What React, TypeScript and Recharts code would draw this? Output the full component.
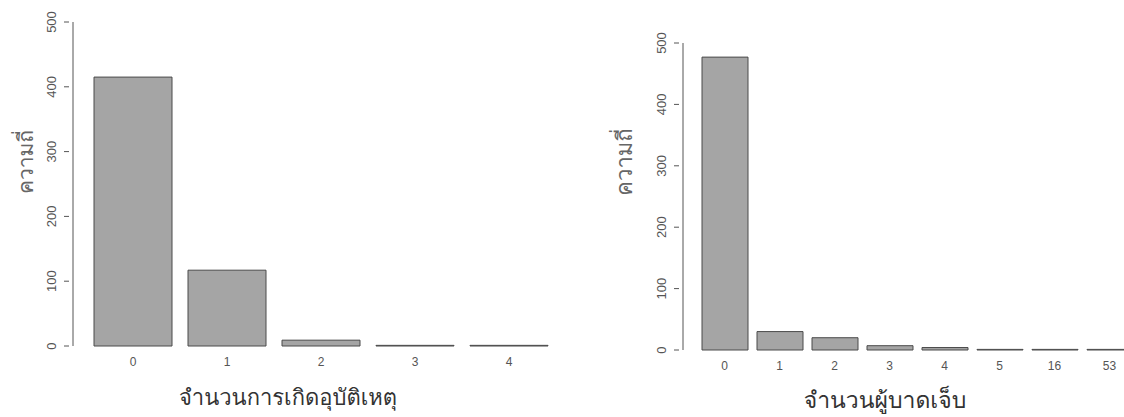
import React from 'react';
import { BarChart, Bar, XAxis, YAxis, Label } from 'recharts';

const accidentCategories = ['0', '1', '2', '3', '4'];
const accidentFreq = [415, 117, 9, 1, 1];

const injuredCategories = ['0', '1', '2', '3', '4', '5', '16', '53'];
const injuredFreq = [477, 30, 20, 7, 4, 1, 1, 1];

const yTicks = [0, 100, 200, 300, 400, 500];

const yTitle = 'ความถี่';
const leftXTitle = 'จำนวนการเกิดอุบัติเหตุ';
const rightXTitle = 'จำนวนผู้บาดเจ็บ';

const accidentData = accidentCategories.map((c, i) => ({ cat: c, freq: accidentFreq[i] }));
const injuredData = injuredCategories.map((c, i) => ({ cat: c, freq: injuredFreq[i] }));

const TICK_FONT = '"Liberation Sans", Arial, Helvetica, sans-serif';
const THAI_FONT = '"Norasi", "Kinnari", "Loma", "Garuda", "TlwgTypo", "Noto Serif Thai", "Noto Sans Thai", serif';

const YTick = (props: any) => {
  const { x, y, payload } = props;
  const cx = x - 9;
  return (
    <g>
      <line x1={x - 1} x2={x + 4} y1={y} y2={y} stroke="#555" strokeWidth={1} />
      <text
        x={cx}
        y={y}
        transform={`rotate(-90, ${cx}, ${y})`}
        textAnchor="middle"
        fontSize={13}
        fontFamily={TICK_FONT}
        fill="#555"
      >
        {payload.value}
      </text>
    </g>
  );
};

const XTick = (props: any) => {
  const { x, y, payload } = props;
  return (
    <text x={x} y={y + 12} textAnchor="middle" fontSize={12} fontFamily={TICK_FONT} fill="#555">
      {payload.value}
    </text>
  );
};

const makeYTitle = (tx: number, ty: number, size: number) => (props: any) => (
  <text
    x={tx}
    y={ty}
    transform={`rotate(-90, ${tx}, ${ty})`}
    textAnchor="middle"
    fontSize={size}
    fontFamily={THAI_FONT}
    fill="#666"
  >
    {yTitle}
  </text>
);

const makeXTitle = (text: string, tx: number, ty: number, size: number) => (props: any) => (
  <text x={tx} y={ty} textAnchor="middle" fontSize={size} fontFamily={THAI_FONT} fill="#333">
    {text}
  </text>
);

export default function App() {
  return (
    <div
      style={{
        position: 'absolute',
        left: 0,
        top: 0,
        width: 1124,
        height: 417,
        overflow: 'hidden',
        background: '#fff',
      }}
    >
      <div style={{ position: 'absolute', left: 0, top: 0 }}>
        <BarChart
          width={560}
          height={417}
          data={accidentData}
          margin={{ top: 22, right: 4, bottom: 0, left: 0 }}
        >
          <XAxis
            dataKey="cat"
            height={71}
            axisLine={false}
            tickLine={false}
            padding={{ left: 13, right: 0 }}
            tick={<XTick />}
            interval={0}
          >
            <Label content={makeXTitle(leftXTitle, 288, 405, 22)} />
          </XAxis>
          <YAxis
            width={73}
            domain={[0, 500]}
            ticks={yTicks}
            axisLine={{ stroke: '#555' }}
            tickLine={false}
            tick={<YTick />}
            interval={0}
          >
            <Label content={makeYTitle(33, 162, 21)} />
          </YAxis>
          <Bar dataKey="freq" barSize={78} fill="#a5a5a5" stroke="#4a4a4a" strokeWidth={1} isAnimationActive={false} />
        </BarChart>
      </div>
      <div style={{ position: 'absolute', left: 560, top: 0 }}>
        <BarChart
          width={580}
          height={417}
          data={injuredData}
          margin={{ top: 43, right: 3, bottom: 0, left: 0 }}
        >
          <XAxis
            dataKey="cat"
            height={67}
            axisLine={false}
            tickLine={false}
            padding={{ left: 14, right: 0 }}
            tick={<XTick />}
            interval={0}
          >
            <Label content={makeXTitle(rightXTitle, 325, 408, 23)} />
          </XAxis>
          <YAxis
            width={123}
            domain={[0, 500]}
            ticks={yTicks}
            axisLine={{ stroke: '#555' }}
            tickLine={false}
            tick={<YTick />}
            interval={0}
          >
            <Label content={makeYTitle(72, 162, 22)} />
          </YAxis>
          <Bar dataKey="freq" barSize={46} fill="#a5a5a5" stroke="#4a4a4a" strokeWidth={1} isAnimationActive={false} />
        </BarChart>
      </div>
    </div>
  );
}
